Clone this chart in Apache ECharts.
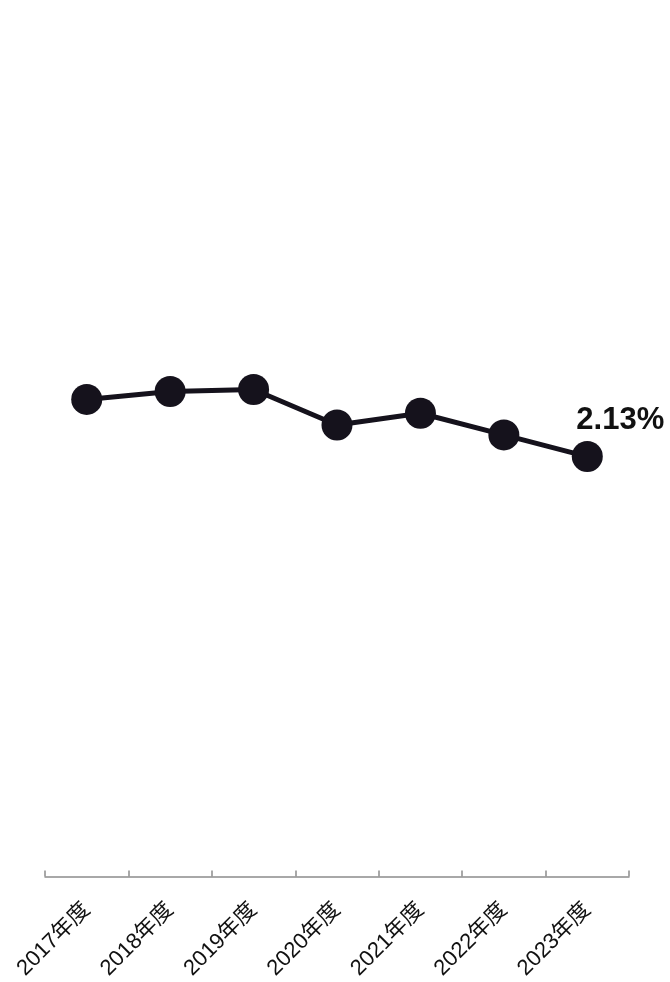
<!DOCTYPE html>
<html><head><meta charset="utf-8">
<script src="https://cdn.jsdelivr.net/npm/echarts@6/dist/echarts.min.js"></script>
<style>html,body{margin:0;padding:0;background:#fff}#c{width:670px;height:982px}</style>
</head><body><div id="c"></div>
<script>
const categories = ['2017年度','2018年度','2019年度','2020年度','2021年度','2022年度','2023年度'];
const values = [2.42, 2.46, 2.47, 2.29, 2.35, 2.24, 2.13];
const lastLabel = '2.13%';

const chart = echarts.init(document.getElementById('c'));
chart.setOption({
  animation: false,
  grid: {left: 45, right: 41, top: 88, bottom: 105},
  xAxis: {
    type: 'category', data: categories, boundaryGap: true,
    axisLine: {show: true, lineStyle: {color: '#8c8c8c', width: 1.5}},
    axisTick: {show: true, inside: true, length: 6, interval: 0, lineStyle: {color: '#8c8c8c', width: 1.5}},
    axisLabel: {rotate: 45, color: '#111', fontSize: 22, margin: 30, interval: 0,
      fontFamily: 'Liberation Sans, Arial, Noto Sans CJK JP, sans-serif'}
  },
  yAxis: {type: 'value', min: 0, max: 4, show: false, splitLine: {show: false}},
  series: [{
    type: 'line', data: values.map((v, i) => i === values.length - 1 ? {
      value: v,
      label: {show: true, formatter: lastLabel, position: 'top', offset: [33, 0],
        fontSize: 31, fontWeight: 'bold', color: '#111',
        fontFamily: 'Liberation Sans, Arial, sans-serif'}
    } : v),
    symbol: 'circle', symbolSize: 31,
    lineStyle: {color: '#15121c', width: 5},
    itemStyle: {color: '#15121c'}
  }]
});
</script></body></html>
